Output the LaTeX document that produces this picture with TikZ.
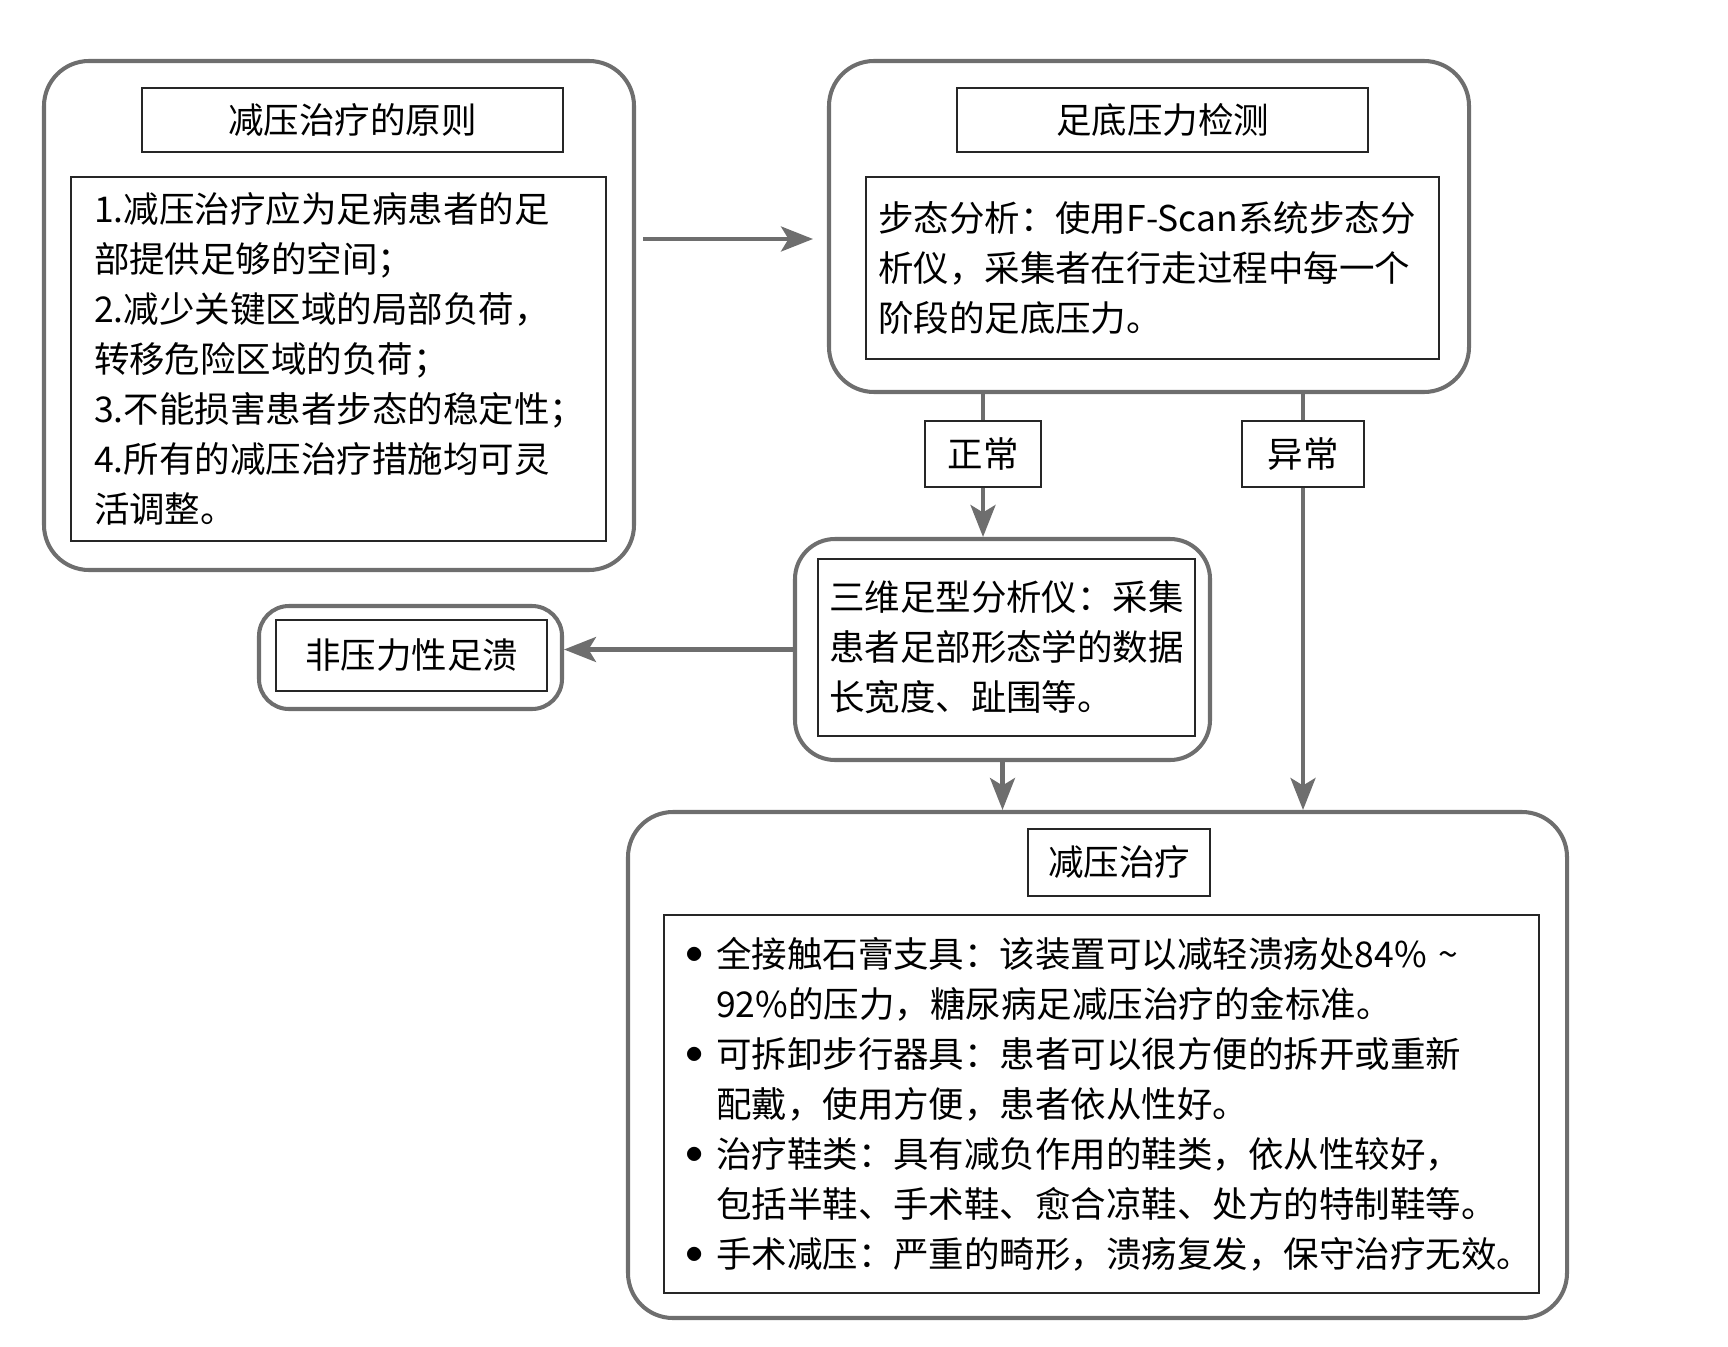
\documentclass[tikz,border=0pt]{standalone}
\usepackage{fontspec}
\setmainfont{Noto Sans CJK SC}
\usetikzlibrary{arrows.meta}
\definecolor{framegray}{RGB}{110,110,110}
\newcommand{\bul}{\makebox[0.62cm][l]{\raisebox{0.1em}{$\bullet$}}}
\newcommand{\ind}{\hspace*{0.62cm}}
\begin{document}
\begin{tikzpicture}[
        outer/.style={draw=framegray,line width=2.3pt,rounded corners=0.9cm},
        inner/.style={draw=black!85,line width=1.1pt,inner sep=0pt},
        conn/.style={draw=framegray,line width=2.3pt},
        arr/.style={conn,-{Stealth[length=0.64cm,width=0.5cm,inset=0.15cm]}},
        font=\fontsize{20.2pt}{28.45pt}\selectfont]
        \useasboundingbox (0,0) rectangle (34.56,-26.94);
        %% Principles
        \node[outer,minimum width=11.80cm,minimum height=10.18cm] (A) at (6.78,-6.31) {};
        \node[inner,minimum width=8.42cm,minimum height=1.28cm] (Atitle) at (7.05,-2.40) {减压治疗的原则};
        \node[inner,text width=9.78cm,inner xsep=0.46cm,minimum height=7.28cm,align=left] (Atext) at (6.77,-7.18)
            {1.减压治疗应为足病患者的足\\部提供足够的空间；\\2.减少关键区域的局部负荷，\\转移危险区域的负荷；\\3.不能损害患者步态的稳定性；\\4.所有的减压治疗措施均可灵\\活调整。};
        %% Plantar pressure
        \node[outer,minimum width=12.80cm,minimum height=6.62cm] (B) at (22.98,-4.53) {};
        \node[inner,minimum width=8.22cm,minimum height=1.28cm] (Btitle) at (23.25,-2.40) {足底压力检测};
        \node[inner,text width=10.98cm,inner xsep=0.24cm,minimum height=3.64cm,align=left] (Btext) at (23.05,-5.36)
            {步态分析：使用F-Scan系统步态分\\析仪，采集者在行走过程中每一个\\阶段的足底压力。};
        %% Branch labels
        \node[inner,minimum width=2.32cm,minimum height=1.32cm] (normal) at (19.66,-9.08) {正常};
        \node[inner,minimum width=2.44cm,minimum height=1.32cm] (abnormal) at (26.06,-9.08) {异常};
        %% Foot shape
        \node[outer,rounded corners=0.8cm,minimum width=8.30cm,minimum height=4.42cm] (C) at (20.05,-12.99) {};
        \node[inner,text width=7.10cm,inner xsep=0.22cm,minimum height=3.54cm,align=left] (Ctext) at (20.13,-12.95)
            {三维足型分析仪：采集\\患者足部形态学的数据\\长宽度、趾围等。};
        %% Non-pressure ulcer
        \node[outer,rounded corners=0.6cm,minimum width=6.06cm,minimum height=2.06cm] (E) at (8.21,-13.15) {};
        \node[inner,minimum width=5.42cm,minimum height=1.42cm] (Etext) at (8.23,-13.11) {非压力性足溃};
        %% Offloading
        \node[outer,minimum width=18.78cm,minimum height=10.12cm] (D) at (21.95,-21.30) {};
        \node[inner,minimum width=3.64cm,minimum height=1.34cm] (Dtitle) at (22.38,-17.25) {减压治疗};
        \node[inner,text width=16.66cm,inner xsep=0.42cm,minimum height=7.56cm,align=left] (Dtext) at (22.03,-22.08)
            {\bul 全接触石膏支具：该装置可以减轻溃疡处84\% \textasciitilde\\
             \ind 92\%的压力，糖尿病足减压治疗的金标准。\\
             \bul 可拆卸步行器具：患者可以很方便的拆开或重新\\
             \ind 配戴，使用方便，患者依从性好。\\
             \bul 治疗鞋类：具有减负作用的鞋类，依从性较好，\\
             \ind 包括半鞋、手术鞋、愈合凉鞋、处方的特制鞋等。\\
             \bul 手术减压：严重的畸形，溃疡复发，保守治疗无效。};
        %% Connectors
        \draw[arr,shorten <=0.14cm,shorten >=0.28cm] ([yshift=1.53cm]A.east) -- ([yshift=-0.25cm]B.west);
        \draw[conn] (normal.north |- B.south) -- (normal.north);
        \draw[arr] (normal.south) -- (normal.south |- C.north);
        \draw[conn] (abnormal.north |- B.south) -- (abnormal.north);
        \draw[arr] (abnormal.south) -- (abnormal.south |- D.north);
        \draw[arr] (C.west) -- (C.west -| E.east);
        \draw[arr] (C.south) -- (C.south |- D.north);
    \end{tikzpicture}
\end{document}
